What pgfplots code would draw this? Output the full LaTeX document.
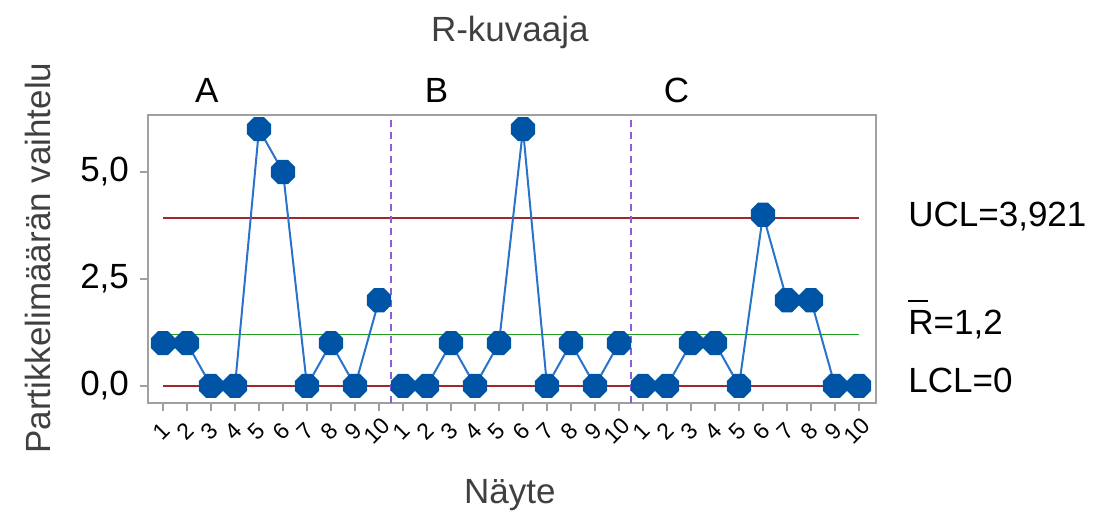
\documentclass[border=0pt]{standalone}
\usepackage{pgfplots}
\pgfplotsset{compat=1.18}
\usepackage{fontspec}
\setmainfont{Liberation Sans}
\definecolor{ptblue}{HTML}{0054A6}
\definecolor{lnblue}{HTML}{2A73C8}
\definecolor{limred}{HTML}{A0282A}
\definecolor{cgreen}{HTML}{22A022}
\definecolor{dpurple}{HTML}{8B5FD3}
\definecolor{frame}{HTML}{A0A0A0}
\definecolor{lbl}{HTML}{404040}
\pgfdeclareplotmark{octagon}{%
 \pgfpathmoveto{\pgfpointpolar{22.5}{\pgfplotmarksize}}%
 \pgfpathlineto{\pgfpointpolar{67.5}{\pgfplotmarksize}}%
 \pgfpathlineto{\pgfpointpolar{112.5}{\pgfplotmarksize}}%
 \pgfpathlineto{\pgfpointpolar{157.5}{\pgfplotmarksize}}%
 \pgfpathlineto{\pgfpointpolar{202.5}{\pgfplotmarksize}}%
 \pgfpathlineto{\pgfpointpolar{247.5}{\pgfplotmarksize}}%
 \pgfpathlineto{\pgfpointpolar{292.5}{\pgfplotmarksize}}%
 \pgfpathlineto{\pgfpointpolar{337.5}{\pgfplotmarksize}}%
 \pgfpathclose\pgfusepathqfillstroke}
\newcommand{\bigf}{\fontsize{17.5}{21}\selectfont}
\begin{document}
\begin{tikzpicture}
\useasboundingbox (-74pt,-56.5pt) rectangle (475.5pt,201.5pt);
\begin{axis}[
  at={(0,0)}, anchor=south west,
  scale only axis, width=364pt, height=144pt,
  xmin=0.375, xmax=30.708, ymin=-0.4, ymax=6.33,
  clip=false,
  axis line style={frame, line width=0.75pt},
  tick style={frame, line width=0.75pt},
  tick align=outside,
  major tick length=4pt,
  xtick pos=bottom, ytick pos=left,
  ytick={0,2.5,5},
  /pgf/number format/assume math mode=true,
  /pgf/number format/.cd, use comma, fixed, fixed zerofill, precision=1,
  /pgfplots/.cd,
  yticklabel style={font=\bigf, black, xshift=-2pt},
  xtick={1,...,30},
  xticklabels={1,2,3,4,5,6,7,8,9,10,1,2,3,4,5,6,7,8,9,10,1,2,3,4,5,6,7,8,9,10},
  xticklabel style={font=\fontsize{11.5}{13}\selectfont, black, yshift=-10pt, xshift=-1pt, rotate=45, anchor=center, inner sep=0pt},
  xlabel={Näyte},
  xlabel style={font=\bigf, lbl, at={(axis description cs:0.497,-0.319)}, anchor=center},
  ylabel={Partikkelimäärän vaihtelu},
  ylabel style={font=\bigf, lbl, at={(axis description cs:-0.151,0.503)}, anchor=center, rotate=0},
]
% control limits
\addplot[limred, line width=0.8pt, forget plot] coordinates {(1,3.921) (30,3.921)};
\addplot[limred, line width=0.8pt, forget plot] coordinates {(1,0) (30,0)};
\addplot[cgreen, line width=0.8pt, forget plot] coordinates {(1,1.2) (30,1.2)};
% stage dividers
\addplot[dpurple, line width=0.75pt, dash pattern=on 3.5pt off 2.5pt, forget plot] coordinates {(10.5,-0.4) (10.5,6.33)};
\addplot[dpurple, line width=0.75pt, dash pattern=on 3.5pt off 2.5pt, forget plot] coordinates {(20.5,-0.4) (20.5,6.33)};
% data
\addplot[lnblue, line width=1pt, mark=octagon, mark size=6pt, mark options={fill=ptblue, draw=ptblue, solid}] coordinates {
(1,1) (2,1) (3,0) (4,0) (5,6) (6,5) (7,0) (8,1) (9,0) (10,2)};
\addplot[lnblue, line width=1pt, mark=octagon, mark size=6pt, mark options={fill=ptblue, draw=ptblue, solid}] coordinates {
(11,0) (12,0) (13,1) (14,0) (15,1) (16,6) (17,0) (18,1) (19,0) (20,1)};
\addplot[lnblue, line width=1pt, mark=octagon, mark size=6pt, mark options={fill=ptblue, draw=ptblue, solid}] coordinates {
(21,0) (22,0) (23,1) (24,1) (25,0) (26,4) (27,2) (28,2) (29,0) (30,0)};
% texts
\node[font=\bigf, lbl, anchor=center] at (rel axis cs:0.497,1.285) {R-kuvaaja};
\node[font=\bigf, black, anchor=base] at (axis cs:2.83,6.62) {A};
\node[font=\bigf, black, anchor=base] at (axis cs:12.4,6.62) {B};
\node[font=\bigf, black, anchor=base] at (axis cs:22.4,6.62) {C};
\node[font=\bigf, black, anchor=west, inner sep=0pt, xshift=16pt] at (axis cs:30.708,3.96) {UCL=3,921};
\node[font=\bigf, black, anchor=west, inner sep=0pt, xshift=16pt] at (axis cs:30.708,1.55) {\makebox[0pt][l]{\rule[0.92em]{0.55em}{1.1pt}}R=1,2};
\node[font=\bigf, black, anchor=west, inner sep=0pt, xshift=16pt] at (axis cs:30.708,0.12) {LCL=0};
\end{axis}
\end{tikzpicture}
\end{document}
